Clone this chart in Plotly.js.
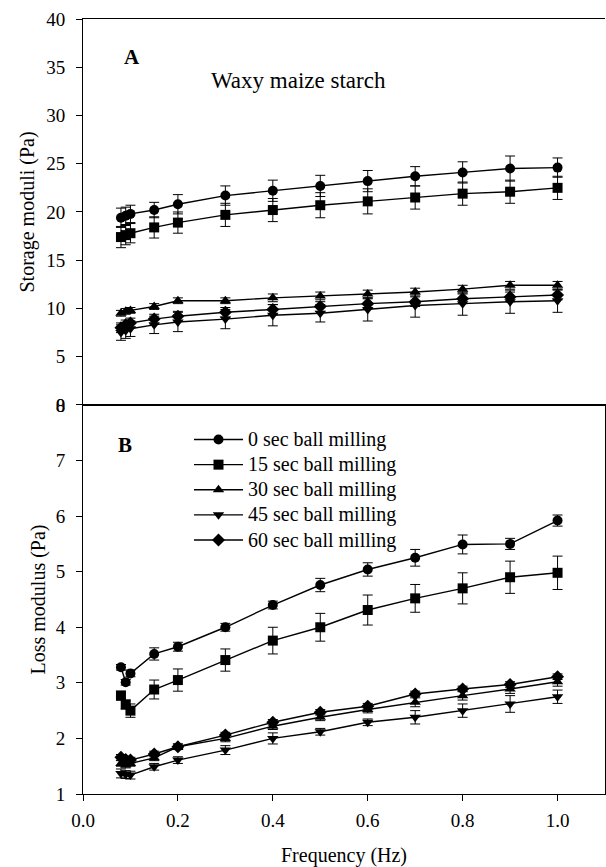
<!DOCTYPE html>
<html>
<head>
<meta charset="utf-8">
<script src="https://cdn.plot.ly/plotly-3.0.1.min.js"></script>
<style>
html,body{margin:0;padding:0;background:#fff;}
#chart{width:606px;height:867px;}
</style>
</head>
<body>
<div id="chart"></div>
<script>
// Frequencies (Hz)
const freq = [0.08, 0.09, 0.10, 0.15, 0.2, 0.3, 0.4, 0.5, 0.6, 0.7, 0.8, 0.9, 1.0];

const seriesNames = ["0 sec ball milling", "15 sec ball milling", "30 sec ball milling", "45 sec ball milling", "60 sec ball milling"];
const seriesSymbols = ["circle", "square", "triangle-up", "triangle-down", "diamond"];

// Panel A: storage moduli (Pa)
const storage0  = [19.4, 19.6, 19.8, 20.2, 20.8, 21.7, 22.2, 22.7, 23.2, 23.7, 24.1, 24.5, 24.6];
const storage15 = [17.4, 17.6, 17.8, 18.4, 18.9, 19.7, 20.2, 20.7, 21.1, 21.5, 21.9, 22.1, 22.5];
const storage30 = [9.5, 9.7, 9.8, 10.2, 10.8, 10.8, 11.1, 11.3, 11.5, 11.7, 12.0, 12.4, 12.4];
const storage45 = [7.5, 7.7, 7.9, 8.3, 8.6, 8.9, 9.3, 9.5, 9.9, 10.3, 10.5, 10.7, 10.8];
const storage60 = [8.0, 8.3, 8.5, 8.9, 9.2, 9.6, 9.9, 10.2, 10.5, 10.7, 11.0, 11.2, 11.4];

const storageErr0  = [1.0, 0.9, 0.9, 0.8, 1.0, 1.0, 1.1, 1.1, 1.1, 1.0, 1.1, 1.3, 1.0];
const storageErr15 = [1.1, 1.0, 1.0, 1.1, 1.1, 1.2, 1.2, 1.3, 1.3, 1.2, 1.2, 1.2, 1.2];
const storageErr30 = [0.3, 0.3, 0.3, 0.3, 0.3, 0.3, 0.4, 0.4, 0.4, 0.4, 0.4, 0.4, 0.4];
const storageErr45 = [0.8, 0.8, 0.8, 0.9, 1.0, 1.0, 1.1, 0.9, 1.2, 1.2, 1.2, 1.2, 1.2];
const storageErr60 = [0.5, 0.5, 0.5, 0.5, 0.5, 0.5, 0.5, 0.5, 0.5, 0.5, 0.5, 0.5, 0.5];

// Panel B: loss modulus (Pa)
const loss0  = [3.28, 3.01, 3.17, 3.52, 3.65, 4.00, 4.40, 4.76, 5.04, 5.25, 5.49, 5.50, 5.92];
const loss15 = [2.77, 2.61, 2.50, 2.88, 3.05, 3.41, 3.76, 4.00, 4.31, 4.52, 4.70, 4.90, 4.98];
const loss30 = [1.55, 1.52, 1.55, 1.65, 1.85, 2.00, 2.22, 2.38, 2.52, 2.65, 2.77, 2.89, 3.02];
const loss45 = [1.37, 1.35, 1.34, 1.49, 1.61, 1.79, 2.00, 2.12, 2.29, 2.38, 2.50, 2.62, 2.75];
const loss60 = [1.66, 1.62, 1.61, 1.72, 1.85, 2.06, 2.29, 2.47, 2.58, 2.80, 2.89, 2.97, 3.11];

const lossErr0  = [0.05, 0.05, 0.06, 0.11, 0.08, 0.07, 0.07, 0.12, 0.12, 0.15, 0.17, 0.10, 0.10];
const lossErr15 = [0.08, 0.08, 0.12, 0.17, 0.20, 0.20, 0.24, 0.25, 0.27, 0.25, 0.28, 0.29, 0.30];
const lossErr30 = [0.05, 0.05, 0.05, 0.05, 0.05, 0.06, 0.06, 0.06, 0.06, 0.08, 0.08, 0.08, 0.08];
const lossErr45 = [0.08, 0.07, 0.07, 0.06, 0.06, 0.08, 0.10, 0.06, 0.06, 0.12, 0.12, 0.15, 0.12];
const lossErr60 = [0.05, 0.05, 0.05, 0.05, 0.05, 0.05, 0.05, 0.05, 0.05, 0.05, 0.05, 0.05, 0.05];

const yTopTicks = [0, 5, 10, 15, 20, 25, 30, 35, 40];
const yBotTicks = [1, 2, 3, 4, 5, 6, 7, 8];
const xTicks = [0.0, 0.2, 0.4, 0.6, 0.8, 1.0];
const xTickText = ["0.0", "0.2", "0.4", "0.6", "0.8", "1.0"];

const storage = [storage0, storage15, storage30, storage45, storage60];
const storageErr = [storageErr0, storageErr15, storageErr30, storageErr45, storageErr60];
const loss = [loss0, loss15, loss30, loss45, loss60];
const lossErr = [lossErr0, lossErr15, lossErr30, lossErr45, lossErr60];

const FONT = "'Liberation Serif', 'DejaVu Serif', serif";
const traces = [];
for (let i = 0; i < 5; i++) {
  traces.push({
    x: freq, y: storage[i], xaxis: 'x2', yaxis: 'y2', type: 'scatter', mode: 'lines+markers',
    name: seriesNames[i], showlegend: false,
    line: {color: '#000', width: 1.4},
    marker: {symbol: seriesSymbols[i], size: 10, color: '#000'},
    error_y: {type: 'data', array: storageErr[i], visible: true, color: '#000', thickness: 1, width: 5}
  });
}
for (let i = 0; i < 5; i++) {
  traces.push({
    x: freq, y: loss[i], xaxis: 'x', yaxis: 'y', type: 'scatter', mode: 'lines+markers',
    name: '<span style="font-size:20px">' + seriesNames[i] + '</span>', showlegend: true,
    line: {color: '#000', width: 1.4},
    marker: {symbol: seriesSymbols[i], size: 10, color: '#000'},
    error_y: {type: 'data', array: lossErr[i], visible: true, color: '#000', thickness: 1, width: 5}
  });
}

const split = 0.502;
const layout = {
  width: 606, height: 867,
  margin: {l: 83, r: 1, t: 19, b: 73},
  paper_bgcolor: '#fff', plot_bgcolor: '#fff',
  font: {family: FONT, size: 18, color: '#000'},
  showlegend: true,
  legend: {
    x: (189 - 83) / 522, xanchor: 'left', y: (794 - 422) / 775, yanchor: 'top',
    font: {family: FONT, size: 17, color: '#000'},
    bgcolor: 'rgba(0,0,0,0)', tracegroupgap: 0, itemwidth: 49
  },
  xaxis: {
    domain: [0, 1], anchor: 'y', range: [0, 1.1],
    tickvals: xTicks, ticktext: xTickText,
    ticks: 'outside', ticklen: 6, tickcolor: '#000', tickwidth: 1,
    ticklabelstandoff: 3,
    showline: true, linecolor: '#000', linewidth: 1, mirror: true,
    showgrid: false, zeroline: false,
    tickfont: {family: FONT, size: 19},
    title: {text: 'Frequency (Hz)', font: {family: FONT, size: 20}, standoff: 21}
  },
  yaxis: {
    domain: [0, split], anchor: 'x', range: [1, 8],
    tickvals: yBotTicks,
    ticks: 'outside', ticklen: 6, tickcolor: '#000', tickwidth: 1,
    ticklabelstandoff: 7,
    showline: true, linecolor: '#000', linewidth: 1, mirror: true,
    showgrid: false, zeroline: false,
    tickfont: {family: FONT, size: 19},
    title: {text: 'Loss modulus (Pa)', font: {family: FONT, size: 20}, standoff: 4}
  },
  xaxis2: {
    domain: [0, 1], anchor: 'y2', range: [0, 1.1],
    showticklabels: false, ticks: '',
    showline: true, linecolor: '#000', linewidth: 1, mirror: 'allticks',
    showgrid: false, zeroline: false
  },
  yaxis2: {
    domain: [split, 1], anchor: 'x2', range: [0, 40],
    tickvals: yTopTicks,
    ticks: 'outside', ticklen: 6, tickcolor: '#000', tickwidth: 1,
    ticklabelstandoff: 7,
    showline: true, linecolor: '#000', linewidth: 1,
    showgrid: false, zeroline: false,
    tickfont: {family: FONT, size: 19},
    title: {text: 'Storage moduli (Pa)', font: {family: FONT, size: 20}, standoff: 6}
  },
  annotations: [
    {xref: 'paper', yref: 'paper', x: (132 - 83) / 522, y: (794 - 57) / 775, xanchor: 'center', yanchor: 'middle',
     text: '<b>A</b>', showarrow: false, font: {family: FONT, size: 21}},
    {xref: 'paper', yref: 'paper', x: (298 - 83) / 522, y: (794 - 80) / 775, xanchor: 'center', yanchor: 'middle',
     text: 'Waxy maize starch', showarrow: false, font: {family: FONT, size: 23}},
    {xref: 'paper', yref: 'paper', x: (125 - 83) / 522, y: (794 - 445) / 775, xanchor: 'center', yanchor: 'middle',
     text: '<b>B</b>', showarrow: false, font: {family: FONT, size: 21}}
  ]
};

Plotly.newPlot('chart', traces, layout, {displayModeBar: false, staticPlot: true});
</script>
</body>
</html>
